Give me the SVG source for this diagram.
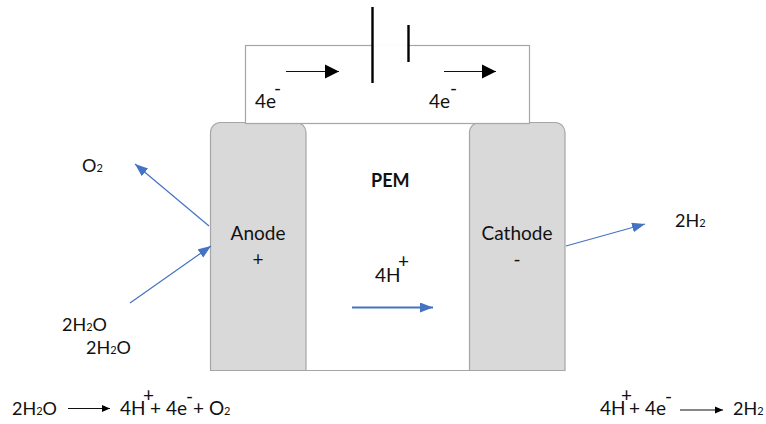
<svg xmlns="http://www.w3.org/2000/svg" width="766" height="424" viewBox="0 0 766 424">
<style>
text{font-family:"Lato","Open Sans","Liberation Sans",sans-serif;fill:#111;font-size:19px}
.f{font-size:18px}
.s{font-size:11px}
.el{fill:#d9d9d9;stroke:#a6a6a6;stroke-width:1.2}
.blue{stroke:#4472c4;stroke-width:1.2;fill:none}
.blk{stroke:#111;stroke-width:1.2;fill:none}
.bat{stroke:#000;stroke-width:2.4}
.m{text-anchor:middle}
</style>
<defs>
<marker id="b" markerUnits="userSpaceOnUse" markerWidth="14" markerHeight="12" refX="13" refY="5" orient="auto"><path d="M0 0L13 5L0 10Z" fill="#4472c4"/></marker>
<marker id="bl" markerUnits="userSpaceOnUse" markerWidth="15" markerHeight="16" refX="14" refY="7.500" orient="auto"><path d="M0 0.500L14 7.500L0 14.500Z" fill="#000"/></marker>
<marker id="bs" markerUnits="userSpaceOnUse" markerWidth="9" markerHeight="9" refX="8" refY="4" orient="auto"><path d="M0 0.500L8 4L0 7.500Z" fill="#000"/></marker>
</defs>
<rect width="766" height="424" fill="#fff"/>
<g id="membrane"><path d="M306 370.500H470" fill="none" stroke="#a6a6a6" stroke-width="1.2"/></g>
<g id="anode"><path class="el" d="M210.500 370.500V132.500a10 10 0 0 1 10-10H296a10 10 0 0 1 10 10V370.500Z"/><text class="m" x="258" y="240">Anode</text><text class="m" x="258" y="266">+</text></g>
<g id="cathode"><path class="el" d="M469.500 370.500V132.500a10 10 0 0 1 10-10H555a10 10 0 0 1 10 10V370.500Z"/><text class="m" x="517" y="240">Cathode</text><text class="m" x="517" y="266">-</text></g>
<g id="circuit"><rect x="245.500" y="45.500" width="284" height="78" fill="#fff" stroke="#a6a6a6" stroke-width="1.2"/><path d="M373 45.500H408" stroke="#fff" stroke-width="2"/></g>
<g id="battery"><path class="bat" d="M372.500 7V83"/><path class="bat" d="M408.500 25V62"/></g>
<g id="connectors">
<path class="blk" d="M286 71.500H339" marker-end="url(#bl)"/>
<path class="blk" d="M444 71.500H496" marker-end="url(#bl)"/>
<path class="blue" d="M209 226L135 164" marker-end="url(#b)"/>
<path class="blue" d="M130 303L211 246" marker-end="url(#b)"/>
<path class="blue" d="M566 246L645 224" marker-end="url(#b)"/>
<path class="blue" style="stroke-width:2.200" d="M352 307.500H433" marker-end="url(#b)"/>
<path class="blk" d="M68 408.500H110" marker-end="url(#bs)"/>
<path class="blk" d="M680 410H723" marker-end="url(#bs)"/>
</g>
<g id="labels">
<text x="255" y="108">4e<tspan x="274" dy="-13">-</tspan></text>
<text x="429" y="108">4e<tspan x="450" dy="-13">-</tspan></text>
<text x="371" y="187" style="font-weight:700;font-size:18px">PEM</text>
<text x="375" y="282">4H<tspan x="398" dy="-14">+</tspan></text>
<text class="f" x="82" y="172">O<tspan class="s">2</tspan></text>
<text class="f" x="675" y="227">2H<tspan class="s">2</tspan></text>
<text class="f" x="62" y="331">2H<tspan class="s">2</tspan>O</text>
<text class="f" x="86" y="354">2H<tspan class="s">2</tspan>O</text>
<text class="f" x="12" y="415">2H<tspan class="s">2</tspan>O</text>
<text x="120" y="415">4H<tspan x="143" dy="-13">+</tspan><tspan x="150" dy="13">+ 4e</tspan><tspan x="186" dy="-12.500">-</tspan><tspan x="193" dy="12.500">+ O</tspan><tspan class="s">2</tspan></text>
<text x="600" y="415">4H<tspan x="621" dy="-13">+</tspan><tspan x="629" dy="13">+ 4e</tspan><tspan x="665" dy="-12.500">-</tspan></text>
<text class="f" x="733" y="415">2H<tspan class="s">2</tspan></text>
</g>
</svg>
